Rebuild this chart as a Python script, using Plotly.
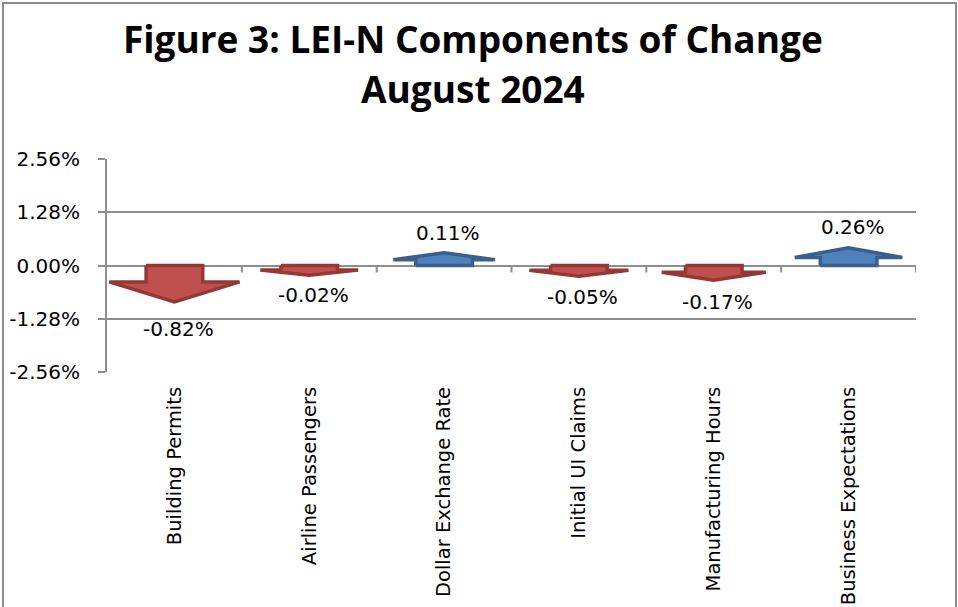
import plotly.graph_objects as go

categories = ["Building Permits", "Airline Passengers", "Dollar Exchange Rate",
              "Initial UI Claims", "Manufacturing Hours", "Business Expectations"]
values = [-0.82, -0.02, 0.11, -0.05, -0.17, 0.26]
value_labels = ["-0.82%", "-0.02%", "0.11%", "-0.05%", "-0.17%", "0.26%"]
ytick_vals = [-2.56, -1.28, 0.0, 1.28, 2.56]
ytick_text = ["-2.56%", "-1.28%", "0.00%", "1.28%", "2.56%"]
title_lines = ["Figure 3: LEI-N Components of Change", "August 2024"]

UP_FILL, UP_LINE = "#4F81BD", "#3A5F8E"
DN_FILL, DN_LINE = "#C0504D", "#943735"
GRID = "#8e8e8e"

PL, PR, PT, PB = 107, 916, 159, 372   # plot area in pixels


def py(p):
    return (PB - p) / (PB - PT)


def px(p):
    return (p - PL) / (PR - PL)


fig = go.Figure()

for i, v in enumerate(values):
    s = 1 if v >= 0 else -1
    L = 0.22 + 0.8 * abs(v)          # arrow length (Excel arrow glyph look)
    hl = 0.55 * L
    ys = s * (L - hl)
    tip = s * L
    sw = 0.21
    hw = (0.72 + 0.3 * abs(v)) / 2
    xs = [i - sw, i - sw, i - hw, i, i + hw, i + sw, i + sw, i - sw]
    yy = [0, ys, ys, tip, ys, ys, 0, 0]
    fig.add_trace(go.Scatter(
        x=xs, y=yy, mode="lines", fill="toself",
        fillcolor=UP_FILL if s > 0 else DN_FILL,
        line=dict(color=UP_LINE if s > 0 else DN_LINE, width=3.5),
        hoverinfo="skip", showlegend=False))
    fig.add_annotation(x=i, y=v, text=value_labels[i], showarrow=False,
                       xanchor="center", yanchor="middle",
                       yshift=28 if s > 0 else -29, xshift=4,
                       font=dict(family="DejaVu Sans", size=20, color="black"))

# category boundary ticks on the zero line
for k in range(len(categories)):
    fig.add_shape(type="line", xref="x", yref="y", ysizemode="pixel", yanchor=0,
                  x0=k + 0.5, x1=k + 0.5, y0=0, y1=-7,
                  line=dict(color=GRID, width=2))

# outer frame
fig.add_shape(type="rect", xref="paper", yref="paper",
              x0=px(3), x1=px(956), y0=py(625), y1=py(3),
              line=dict(color="#8a8a8a", width=2), fillcolor="rgba(0,0,0,0)",
              layer="below")

# title (two lines)
for txt, yc in zip(title_lines, [38, 88]):
    fig.add_annotation(text=txt, xref="paper", yref="paper",
                       x=px(473), y=py(yc), xanchor="center", yanchor="middle",
                       showarrow=False,
                       font=dict(family="Open Sans", size=37, color="black",
                                 weight="bold"))

fig.update_layout(
    width=958, height=607,
    margin=dict(l=PL, r=958 - PR, t=PT, b=607 - PB, autoexpand=False),
    paper_bgcolor="white", plot_bgcolor="white",
    xaxis=dict(range=[-0.5, 5.5], tickvals=list(range(len(categories))),
               ticktext=categories, tickangle=-90, showgrid=False, showline=False,
               zeroline=False, ticks="", ticklabelstandoff=10, automargin=False,
               tickfont=dict(family="DejaVu Sans", size=19.5, color="black")),
    yaxis=dict(range=[-2.56, 2.56], tickvals=ytick_vals, ticktext=ytick_text,
               showgrid=True, gridcolor=GRID, gridwidth=2,
               zeroline=True, zerolinecolor=GRID, zerolinewidth=2,
               showline=True, linecolor=GRID, linewidth=2,
               ticks="outside", ticklen=7, tickcolor=GRID, tickwidth=2,
               ticklabelstandoff=14, automargin=False,
               tickfont=dict(family="DejaVu Sans", size=20, color="black")),
)

fig.write_html("out.html", config={"displayModeBar": False},
               post_script="document.body.style.margin='0px';"
                           "document.body.style.overflow='hidden';")
